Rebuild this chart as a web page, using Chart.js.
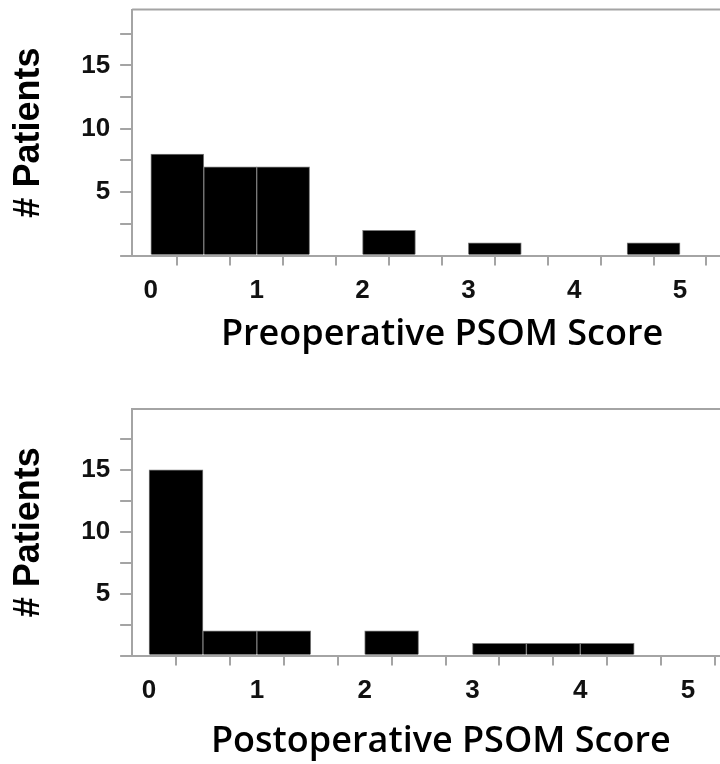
<!DOCTYPE html>
<html>
<head>
<meta charset="utf-8">
<script src="https://cdn.jsdelivr.net/npm/chart.js@4.4.1/dist/chart.umd.min.js"></script>
<style>
body { margin: 0; background: #fff; overflow: hidden; width: 720px; height: 764px; position: relative; }
.box { position: absolute; left: 0; width: 752px; }
#preBox { top: -16px; height: 398px; }
#postBox { top: 382px; height: 390px; }
</style>
</head>
<body>
<div class="box" id="preBox"><canvas id="preChart"></canvas></div>
<div class="box" id="postBox"><canvas id="postChart"></canvas></div>
<script>
// histogram bins (width 0.5), centres on the score axis
var binCenters = [0.25, 0.75, 1.25, 1.75, 2.25, 2.75, 3.25, 3.75, 4.25, 4.75];
var preCounts = [8, 7, 7, 0, 2, 0, 1, 0, 0, 1];
var postCounts = [15, 2, 2, 0, 2, 0, 1, 1, 1, 0];
var xTickLabels = ['0', '1', '2', '3', '4', '5'];
var yTickLabels = ['5', '10', '15'];

var axisGray = '#a4a4a4';
var tickFont = { family: 'Liberation Sans', weight: 'bold', size: 26 };

// top edge of the plot frame
var topLine = {
	id: 'topLine',
	afterDraw: function(chart) {
		var a = chart.chartArea, c = chart.ctx;
		c.save();
		c.strokeStyle = axisGray;
		c.lineWidth = 2;
		c.beginPath();
		c.moveTo(a.left, a.top);
		c.lineTo(a.right, a.top);
		c.stroke();
		c.restore();
	}
};

function makeChart(id, counts, xTitle, s) {
	var points = [];
	for (var i in binCenters) {
		points.push({ x: binCenters[i], y: counts[i] });
	}
	return new Chart(document.getElementById(id), {
		type: 'bar',
		data: {
			datasets: [{
				data: points,
				backgroundColor: '#000',
				borderColor: '#7a7a7a',
				borderWidth: 1,
				barPercentage: 1,
				categoryPercentage: 1
			}]
		},
		options: {
			responsive: true,
			maintainAspectRatio: false,
			animation: false,
			layout: { padding: { top: s.padTop, bottom: s.padBottom, left: 0, right: 0 } },
			plugins: { legend: { display: false }, tooltip: { enabled: false } },
			scales: {
				x: {
					type: 'linear',
					min: s.xMin,
					max: s.xMax,
					offset: false,
					grid: { drawOnChartArea: false, drawTicks: true, tickLength: 10, color: axisGray, lineWidth: 2 },
					border: { display: true, color: axisGray, width: 2 },
					ticks: {
						stepSize: 0.5,
						includeBounds: false,
						autoSkip: false,
						maxRotation: 0,
						padding: 10,
						color: '#111',
						font: tickFont,
						callback: function(v) {
							return Number.isInteger(v) && v >= 0 ? xTickLabels[v] : '';
						}
					},
					title: {
						display: true,
						text: xTitle,
						color: '#000',
						font: { family: 'Open Sans', weight: '600', size: 36 },
						padding: { top: s.titleTop, bottom: 0 }
					}
				},
				y: {
					min: 0,
					max: s.yMax,
					grid: { drawOnChartArea: false, drawTicks: true, tickLength: 12, color: axisGray, lineWidth: 2 },
					border: { display: true, color: axisGray, width: 2 },
					ticks: {
						stepSize: 2.5,
						includeBounds: false,
						autoSkip: false,
						padding: 10,
						color: '#111',
						font: tickFont,
						callback: function(v) {
							return (v > 0 && v % 5 === 0) ? yTickLabels[v / 5 - 1] : '';
						}
					},
					title: {
						display: true,
						text: '# Patients',
						color: '#000',
						font: { family: 'Liberation Sans', weight: 'bold', size: 36 },
						padding: { top: 7, bottom: 21 }
					}
				}
			}
		},
		plugins: [topLine]
	});
}

makeChart('preChart', preCounts, 'Preoperative PSOM Score',
	{ xMin: -0.177, xMax: 5.68, yMax: 19.4, padTop: 9, padBottom: 26, titleTop: -4 });
makeChart('postChart', postCounts, 'Postoperative PSOM Score',
	{ xMin: -0.157, xMax: 5.57, yMax: 19.9, padTop: 27, padBottom: 9, titleTop: 3 });
</script>
</body>
</html>
